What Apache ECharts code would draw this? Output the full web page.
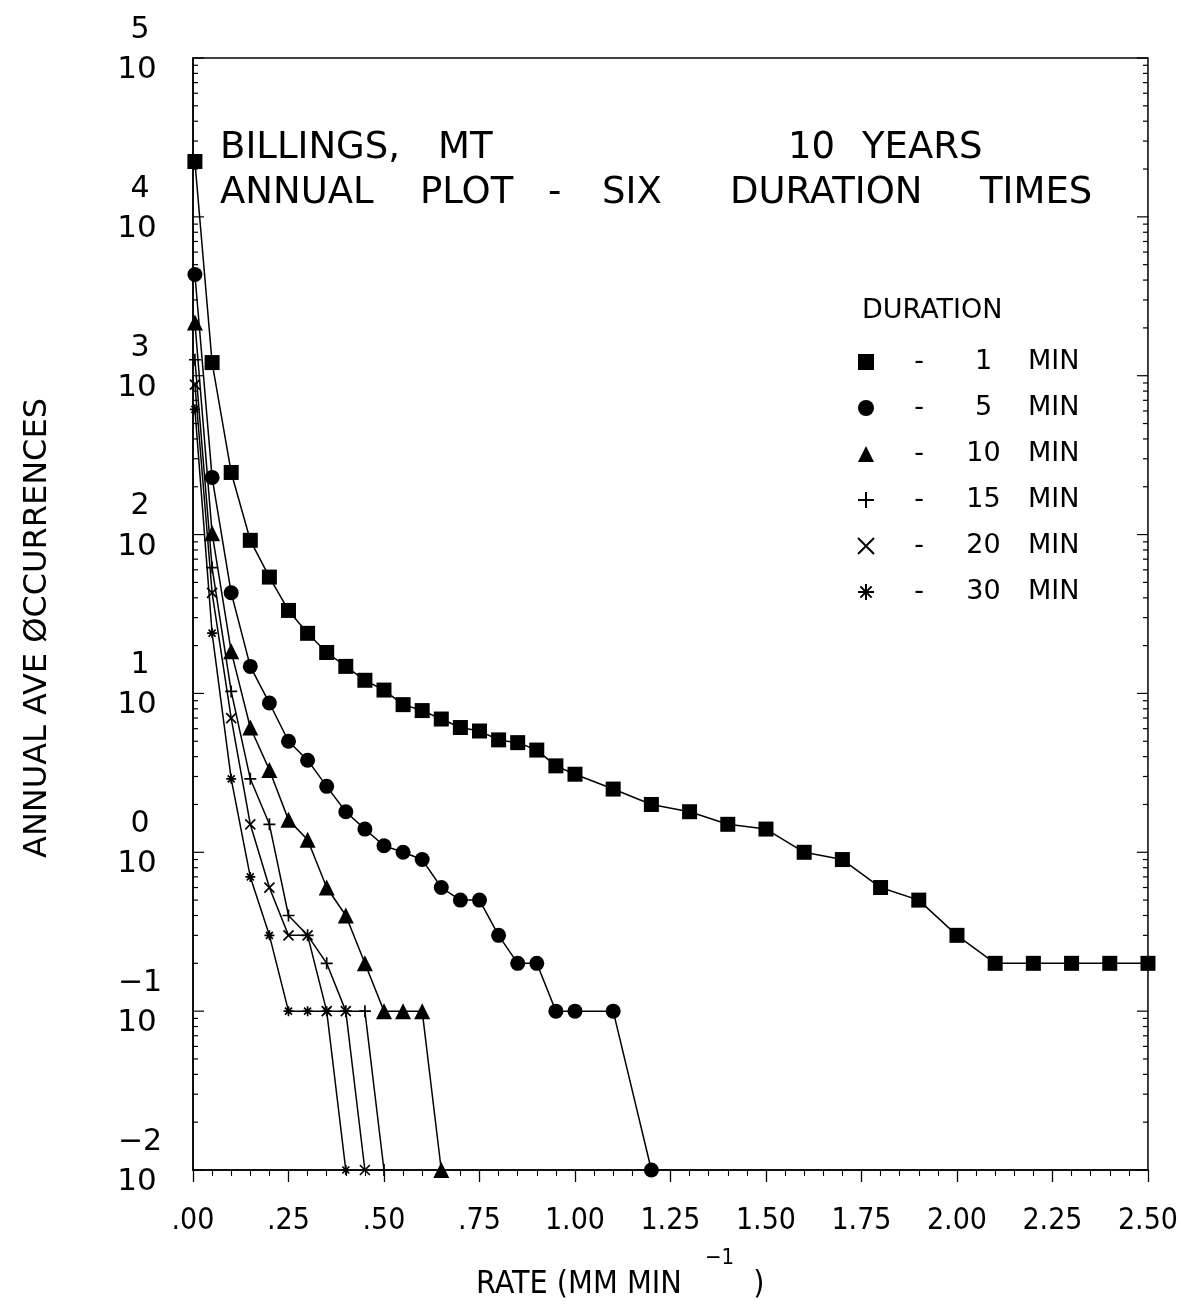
<!DOCTYPE html>
<html>
<head>
<meta charset="utf-8">
<script src="https://cdn.jsdelivr.net/npm/echarts@6/dist/echarts.min.js"></script>
<style>
html,body{margin:0;padding:0;background:#fff;}
#chart{width:1181px;height:1309px;}
</style>
</head>
<body>
<div id="chart"></div>
<script>
// ---- data (rate in mm/min, annual average occurrences) ----
var RATE_1  = [0.005,0.05,0.10,0.15,0.20,0.25,0.30,0.35,0.40,0.45,0.50,0.55,0.60,0.65,0.70,0.75,0.80,0.85,0.90,0.95,1.00,1.10,1.20,1.30,1.40,1.50,1.60,1.70,1.80,1.90,2.00,2.10,2.20,2.30,2.40,2.50];
var OCC_1   = [22300,1210,246,92,54,33.3,23.9,18.1,14.8,12.1,10.5,8.5,7.8,6.9,6.1,5.8,5.1,4.9,4.4,3.5,3.1,2.5,2.0,1.8,1.5,1.4,1.0,0.9,0.6,0.5,0.3,0.2,0.2,0.2,0.2,0.2];
var RATE_5  = [0.005,0.05,0.10,0.15,0.20,0.25,0.30,0.35,0.40,0.45,0.50,0.55,0.60,0.65,0.70,0.75,0.80,0.85,0.90,0.95,1.00,1.10,1.20];
var OCC_5   = [4340,229,43,14.8,8.7,5.0,3.8,2.6,1.8,1.4,1.1,1.0,0.9,0.6,0.5,0.5,0.3,0.2,0.2,0.1,0.1,0.1,0.01];
var RATE_10 = [0.005,0.05,0.10,0.15,0.20,0.25,0.30,0.35,0.40,0.45,0.50,0.55,0.60,0.65];
var OCC_10  = [2165,102,18.4,6.1,3.3,1.6,1.2,0.6,0.4,0.2,0.1,0.1,0.1,0.01];
var RATE_15 = [0.005,0.05,0.10,0.15,0.20,0.25,0.30,0.35,0.40,0.45,0.50];
var OCC_15  = [1260,62,10.3,2.9,1.5,0.4,0.3,0.2,0.1,0.1,0.01];
var RATE_20 = [0.005,0.05,0.10,0.15,0.20,0.25,0.30,0.35,0.40,0.45];
var OCC_20  = [880,43,7.0,1.5,0.6,0.3,0.3,0.1,0.1,0.01];
var RATE_30 = [0.005,0.05,0.10,0.15,0.20,0.25,0.30,0.35,0.40];
var OCC_30  = [614,24,2.9,0.7,0.3,0.1,0.1,0.1,0.01];

var SERIES_NAMES = ['1 MIN','5 MIN','10 MIN','15 MIN','20 MIN','30 MIN'];
var X_TICK_LABELS = ['.00','.25','.50','.75','1.00','1.25','1.50','1.75','2.00','2.25','2.50'];
var TITLE_1 = ['BILLINGS,','MT'];
var TITLE_YEARS = ['10','YEARS'];
var TITLE_2 = ['ANNUAL','PLOT','-','SIX','DURATION','TIMES'];
var LEGEND_TITLE = 'DURATION';
var Y_NAME = 'ANNUAL AVE ØCCURRENCES';

// ---- rendering ----
var SYM = {
  plus:  'path://M5,0L5,10M0,5L10,5',
  cross: 'path://M0,0L10,10M10,0L0,10',
  star:  'path://M5,0L5,10M0,5L10,5M1.5,1.5L8.5,8.5M8.5,1.5L1.5,8.5'
};
var SYMBOLS = ['rect','circle','triangle',SYM.plus,SYM.cross,SYM.star];
function pairs(xs, ys){ return xs.map(function(x,i){ return [x, ys[i]]; }); }

var plotFont = '"DejaVu Sans", sans-serif';
var narrowFont = '"DejaVu Sans Condensed", "Liberation Sans Narrow", sans-serif';

function mkSeries(idx, xs, ys, size, bw){
  return {
    name: SERIES_NAMES[idx], type: 'line', data: pairs(xs, ys),
    symbol: SYMBOLS[idx], symbolSize: size, showSymbol: true, clip: false,
    lineStyle: {color:'#000', width:1.5},
    itemStyle: {color:'#000', borderColor:'#000', borderWidth: bw},
    emphasis: {disabled:true}, animation:false, z:3
  };
}

var chart = echarts.init(document.getElementById('chart'), null, {renderer:'canvas'});

var graphics = [];
function txt(s, x, y, size, font, align){
  graphics.push({type:'text', x:x, y:y, silent:true,
    style:{text:s, fontSize:size, fontFamily:font, fill:'#000',
      textAlign: align||'left', textVerticalAlign:'middle'}});
}
txt(TITLE_1[0], 220, 148, 37, plotFont);
txt(TITLE_1[1], 438, 148, 37, plotFont);
txt(TITLE_YEARS[0], 788, 148, 37, plotFont);
txt(TITLE_YEARS[1], 862, 148, 37, plotFont);
var t2x = [220, 420, 548, 602, 730, 980];
TITLE_2.forEach(function(w,i){ txt(w, t2x[i], 193, 37, plotFont); });
txt(LEGEND_TITLE, 862, 311, 27, plotFont);

// y axis title (rotated)
graphics.push({type:'text', x:38, y:628, rotation:Math.PI/2, silent:true,
  style:{text:Y_NAME, fontSize:32, fontFamily:plotFont, fill:'#000',
    textAlign:'center', textVerticalAlign:'middle'}});
// x axis title with superscript
graphics.push({type:'text', x:476, y:1285, silent:true,
  style:{text:'{a|RATE (MM MIN }{s|−1}{a| )}', fill:'#000',
    textAlign:'left', textVerticalAlign:'middle',
    rich:{
      a:{fontSize:32, fontFamily:narrowFont, fill:'#000'},
      s:{fontSize:22, fontFamily:narrowFont, fill:'#000', padding:[0,10,54,14]}
    }}});

var option = {
  backgroundColor:'#fff',
  animation:false,
  grid:{left:193, top:58, right:33, bottom:139, show:true, borderColor:'#000', borderWidth:1.5, backgroundColor:'transparent'},
  xAxis:{
    type:'value', min:0, max:2.5, interval:0.25,
    axisLine:{show:true, lineStyle:{color:'#000', width:1.5}},
    axisTick:{show:true, inside:false, length:12, lineStyle:{color:'#000', width:1.3}},
    minorTick:{show:true, splitNumber:5, length:6, lineStyle:{color:'#000', width:1.1}},
    splitLine:{show:false},
    axisLabel:{margin:36, fontSize:30, fontFamily:narrowFont, color:'#000',
      showMinLabel:true, showMaxLabel:true,
      formatter:function(v){ var i=Math.round(v/0.25); return X_TICK_LABELS[i]; }}
  },
  yAxis:{
    type:'log', logBase:10, min:0.01, max:100000, splitNumber:7,
    axisLine:{show:true, lineStyle:{color:'#000', width:1.5}},
    axisTick:{show:false},
    splitLine:{show:false},
    axisLabel:{margin:56, align:'center', showMinLabel:true, showMaxLabel:true,
      formatter:function(v){
        var e=Math.round(Math.log(v)/Math.LN10);
        return '{e|'+(e<0?'−'+(-e):e)+'}\n{b|10}';
      },
      rich:{
        e:{fontSize:30, fontFamily:plotFont, color:'#000', lineHeight:24, align:'center', padding:[0,0,0,6]},
        b:{fontSize:31, fontFamily:plotFont, color:'#000', lineHeight:56, align:'center'}
      }}
  },
  legend:{
    data:SERIES_NAMES.map(function(n,i){ return {name:n, icon:SYMBOLS[i]}; }),
    orient:'vertical', left:852, top:342,
    itemWidth:16, itemHeight:16, itemGap:16, selectedMode:false,
    formatter:function(name){
      var p=name.split(' ');
      return '{d|-}{n|'+p[0]+'}{m|'+p[1]+'}';
    },
    textStyle:{color:'#000', fontSize:27, fontFamily:plotFont, lineHeight:30,
      rich:{
        d:{fontSize:27, fontFamily:plotFont, width:80, align:'center', lineHeight:30},
        n:{fontSize:27, fontFamily:plotFont, width:49, align:'right', lineHeight:30},
        m:{fontSize:27, fontFamily:plotFont, padding:[0,0,0,20], lineHeight:30}
      }}
  },
  graphic: graphics,
  series:[
    mkSeries(0, RATE_1, OCC_1, 15, 0),
    mkSeries(1, RATE_5, OCC_5, 15, 0),
    mkSeries(2, RATE_10, OCC_10, 16, 0),
    mkSeries(3, RATE_15, OCC_15, 12, 1.7),
    mkSeries(4, RATE_20, OCC_20, 10, 1.7),
    mkSeries(5, RATE_30, OCC_30, 10, 1.7),
    {
      name:'ticks', type:'custom', coordinateSystem:'cartesian2d', silent:true, z:2,
      data:[[1,1]], animation:false,
      renderItem:function(params, api){
        var ch=[];
        for (var k=-2;k<=5;k++){
          for (var m=1;m<10;m++){
            var v=m*Math.pow(10,k);
            if (v>100000*1.0001) continue;
            var pl=api.coord([0,v]), pr=api.coord([2.5,v]);
            var len=(m===1)?11:5;
            ch.push({type:'line', shape:{x1:pl[0],y1:pl[1],x2:pl[0]+len,y2:pl[1]}, style:{stroke:'#000',lineWidth:1.2}});
            ch.push({type:'line', shape:{x1:pr[0],y1:pr[1],x2:pr[0]-len,y2:pr[1]}, style:{stroke:'#000',lineWidth:1.2}});
          }
        }
        return {type:'group', children:ch};
      }
    }
  ]
};
chart.setOption(option);
</script>
</body>
</html>
